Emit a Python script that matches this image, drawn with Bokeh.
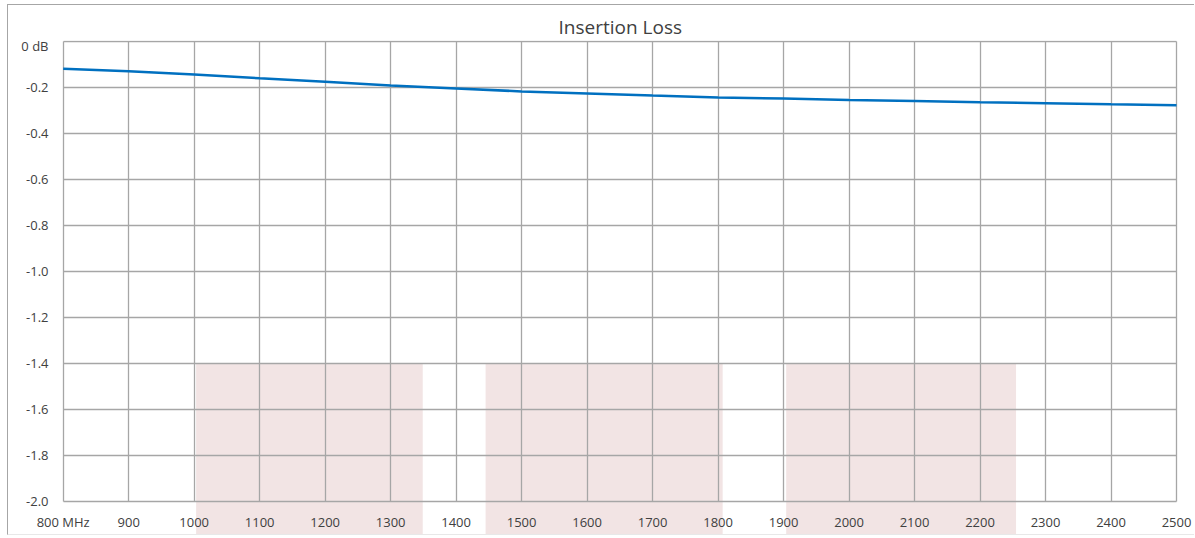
from bokeh.plotting import figure
from bokeh.models import Range1d, FixedTicker
from bokeh.core.properties import value
from bokeh.embed import file_html
from bokeh.resources import INLINE

# ---- data ----
freq_mhz = [800, 900, 1000, 1100, 1200, 1300, 1400, 1500, 1600, 1700, 1800,
            1900, 2000, 2100, 2200, 2300, 2400, 2500]
insertion_loss_db = [-0.119, -0.129, -0.143, -0.160, -0.175, -0.191, -0.204, -0.217,
                     -0.226, -0.235, -0.243, -0.248, -0.254, -0.259, -0.264, -0.268,
                     -0.273, -0.277]

x_ticks = [800, 900, 1000, 1100, 1200, 1300, 1400, 1500, 1600, 1700, 1800,
           1900, 2000, 2100, 2200, 2300, 2400, 2500]
x_tick_labels = ["800 MHz", "900", "1000", "1100", "1200", "1300", "1400", "1500",
                 "1600", "1700", "1800", "1900", "2000", "2100", "2200", "2300",
                 "2400", "2500"]
y_ticks = [0, -0.2, -0.4, -0.6, -0.8, -1.0, -1.2, -1.4, -1.6, -1.8, -2.0]
y_tick_labels = ["0 dB", "-0.2", "-0.4", "-0.6", "-0.8", "-1.0", "-1.2", "-1.4",
                 "-1.6", "-1.8", "-2.0"]

band_left = [1003, 1445, 1904]
band_right = [1349, 1807, 2255]
band_top = [-1.4, -1.4, -1.4]

FONT = "Open Sans"
TXT = "#404040"
GRID = "#a6a6a6"

x_min, x_max = 800, 2500
y_min, y_max = -2.0, 0.0
# the frame spans the whole drawing so the bands and labels can sit below -2.0
x_view = (716.5, 2529.0)
y_view = (-2.152, 0.0043)

p = figure(width=1187, height=531, output_backend="svg", toolbar_location=None,
           x_range=Range1d(*x_view), y_range=Range1d(*y_view),
           min_border_left=0, min_border_right=0, min_border_top=35,
           min_border_bottom=0, x_axis_location=None, y_axis_location=None,
           title="Insertion Loss")
p.styles = {"margin-left": "7px", "margin-top": "4px",
            "border-left": "1px solid #a6a6a6",
            "border-top": "1px solid #a6a6a6",
            "border-bottom": "1px solid #e8e8e8"}
p.outline_line_color = None
p.background_fill_color = "white"
p.border_fill_color = "white"

p.title.align = "left"
p.title.offset = 550
p.title.text_font = FONT
p.title.text_font_size = "19px"
p.title.text_font_style = "normal"
p.title.text_color = TXT
p.title.standoff = 2

# grids
p.ygrid.ticker = FixedTicker(ticks=y_ticks)
p.ygrid.grid_line_color = GRID
p.ygrid.grid_line_width = 1.3
p.ygrid.cross_bounds = (x_min, x_max)
p.xgrid.ticker = FixedTicker(ticks=x_ticks)
p.xgrid.grid_line_color = GRID
p.xgrid.grid_line_width = 1.3
p.xgrid.cross_bounds = (y_min, y_max)

# shaded bands
bands = p.quad(left=band_left, right=band_right, top=band_top,
               bottom=[y_view[0]] * len(band_left),
               fill_color="#f2e4e4", line_color=None)
bands.level = "image"

# curve
p.line(freq_mhz, insertion_loss_db, line_color="#0070c0", line_width=2.5)

# tick labels
p.text(x=x_ticks, y=[y_min - 0.09] * len(x_ticks), text=x_tick_labels,
       text_align="center", text_baseline="middle",
       text_font=value(FONT), text_font_size="13px", text_color=TXT)
y_label_shift = [5] + [0] * (len(y_ticks) - 1)  # top label sits just inside the plot
p.text(x=[x_min - 22.4] * len(y_ticks), y=y_ticks, text=y_tick_labels,
       y_offset=y_label_shift,
       text_align="right", text_baseline="middle",
       text_font=value(FONT), text_font_size="13px", text_color=TXT)

open("out.html", "w").write(file_html(p, INLINE))
